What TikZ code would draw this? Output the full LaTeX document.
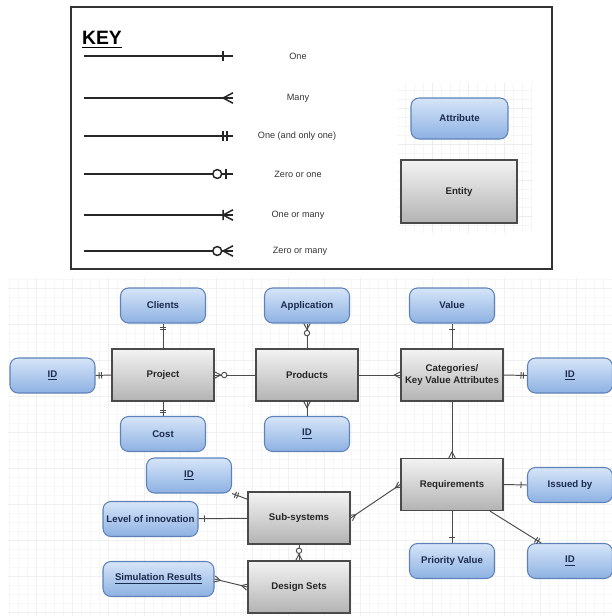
\documentclass[tikz,border=0pt]{standalone}
\usepackage{fontspec}
\setmainfont{Liberation Sans}
\usetikzlibrary{arrows.meta}

\definecolor{attrtop}{HTML}{D6E5F8}
\definecolor{attrbot}{HTML}{8DB1E2}
\definecolor{attrline}{HTML}{5E82B8}
\definecolor{attrtext}{HTML}{1C2B4E}
\definecolor{enttop}{HTML}{F3F3F3}
\definecolor{entbot}{HTML}{B3B3B3}
\definecolor{entline}{HTML}{4A4A4A}

% 線の端の記号(カラスの足記法)
\def\erbar#1{\pgfpathmoveto{\pgfqpoint{#1\pgfarrowlength}{-.5\pgfarrowwidth}}%
  \pgfpathlineto{\pgfqpoint{#1\pgfarrowlength}{.5\pgfarrowwidth}}}
\def\ercrow{\pgfpathmoveto{\pgfqpoint{0pt}{.5\pgfarrowwidth}}%
  \pgfpathlineto{\pgfqpoint{-\pgfarrowlength}{0pt}}%
  \pgfpathlineto{\pgfqpoint{0pt}{-.5\pgfarrowwidth}}}
\def\ercircle{\pgfusepathqstroke\pgfsetfillcolor{white}%
  \pgfpathcircle{\pgfqpoint{-1.6\pgfarrowlength}{0pt}}{.45\pgfarrowlength}%
  \pgfusepathqfillstroke}
\newcommand\declareer[2]{%
  \pgfdeclarearrow{
    name = #1,
    parameters = {\the\pgfarrowlength,\the\pgfarrowwidth},
    setup code = {
      \pgfarrowssettipend{0pt}
      \pgfarrowssetlineend{0pt}
      \pgfarrowssetbackend{-2.1\pgfarrowlength}
      \pgfarrowsupperhullpoint{0pt}{.5\pgfarrowwidth}
      \pgfarrowsupperhullpoint{-2.1\pgfarrowlength}{.5\pgfarrowwidth}
      \pgfarrowssavethe\pgfarrowlength
      \pgfarrowssavethe\pgfarrowwidth
    },
    drawing code = {\pgfsetdash{}{0pt}#2},
    defaults = {length = 3.4pt, width = 3.6pt}
  }}
\declareer{ER one}{\erbar{-1}\pgfusepathqstroke}
\declareer{ER many}{\ercrow\pgfusepathqstroke}
\declareer{ER one only}{\erbar{-1}\erbar{-.6}\pgfusepathqstroke}
\declareer{ER zero one}{\erbar{-.7}\ercircle}
\declareer{ER one many}{\erbar{-1}\ercrow\pgfusepathqstroke}
\declareer{ER zero many}{\ercrow\ercircle}

\tikzset{
  attr/.style={draw=attrline, line width=0.6pt, rounded corners=0.16cm,
    top color=attrtop, bottom color=attrbot, minimum width=1.7cm,
    minimum height=0.7cm, inner sep=0pt, text=attrtext,
    font=\fontsize{5.5}{6.5}\selectfont\bfseries},
  entity/.style={draw=entline, line width=0.8pt, top color=enttop,
    bottom color=entbot, minimum width=2.04cm, minimum height=1.04cm,
    inner sep=0pt, text=black!85, align=center,
    font=\fontsize{5.5}{6.5}\selectfont\bfseries},
  link/.style={draw=black!70, line width=0.55pt},
  keyline/.style={draw=black!85, line width=0.85pt},
  keytext/.style={font=\fontsize{5.2}{6}\selectfont, text=black!80},
  one/.style={-{ER one[#1]}}, one/.default={},
  many/.style={-{ER many[#1]}}, many/.default={},
  oneonly/.style={-{ER one only[#1]}}, oneonly/.default={},
  zeroone/.style={-{ER zero one[#1]}}, zeroone/.default={},
  onemany/.style={-{ER one many[#1]}}, onemany/.default={},
  zeromany/.style={-{ER zero many[#1]}}, zeromany/.default={},
  manymany/.style={{ER many}-{ER many}}
}

\begin{document}
\begin{tikzpicture}[x=0.02cm, y=-0.02cm]
    \useasboundingbox (0,0) rectangle (612,616);

    % 背景の方眼
    \draw[black!3, step=0.18cm] (8,278) grid (612,616);
    \draw[black!6, step=0.72cm] (8,278) grid (612,616);

    % 凡例
    \draw[black!80, line width=1pt] (71,7) rectangle (552,269);
    \node[font=\fontsize{11}{12}\selectfont\bfseries] (keytitle) at (102,40) {\underline{KEY}};

    \coordinate (k1a) at (84,56);  \coordinate (k1b) at (233,56);
    \coordinate (k2a) at (84,98);  \coordinate (k2b) at (233,98);
    \coordinate (k3a) at (84,136); \coordinate (k3b) at (233,136);
    \coordinate (k4a) at (84,174); \coordinate (k4b) at (233,174);
    \coordinate (k5a) at (84,215); \coordinate (k5b) at (233,215);
    \coordinate (k6a) at (84,251); \coordinate (k6b) at (233,251);

    \draw[keyline, one={scale=1.65}] (k1a) -- (k1b);
    \draw[keyline, many={scale=1.65}] (k2a) -- (k2b);
    \draw[keyline, oneonly={scale=1.65}] (k3a) -- (k3b);
    \draw[keyline, zeroone={scale=1.65}] (k4a) -- (k4b);
    \draw[keyline, onemany={scale=1.65}] (k5a) -- (k5b);
    \draw[keyline, zeromany={scale=1.65}] (k6a) -- (k6b);

    \node[keytext] (kone) at (298,56) {One};
    \node[keytext] (kmany) at (298,98) {Many};
    \node[keytext] (koneonly) at (297,136) {One (and only one)};
    \node[keytext] (kzeroone) at (298,174) {Zero or one};
    \node[keytext] (konemany) at (298,215) {One or many};
    \node[keytext] (kzeromany) at (300,251) {Zero or many};

    \draw[black!4, step=0.18cm] (398,83) grid (532,233);
    \draw[black!7, step=0.72cm] (398,83) grid (532,233);
    \node[attr, minimum width=1.94cm, minimum height=0.82cm] (kattr) at (459.5,118.5) {Attribute};
    \node[entity, minimum width=2.32cm, minimum height=1.26cm] (kent) at (459,191.5) {Entity};

    % エンティティ
    \node[entity] (proj) at (163,375) {Project};
    \node[entity] (prod) at (307,375) {Products};
    \node[entity] (cat) at (452,375) {Categories/\\Key Value Attributes};
    \node[entity] (req) at (452,484.5) {Requirements};
    \node[entity] (sub) at (299,518) {Sub-systems};
    \node[entity] (des) at (299,587) {Design Sets};

    % 属性
    \node[attr] (clients) at (163,305.5) {Clients};
    \node[attr] (app) at (307,305.5) {Application};
    \node[attr] (value) at (452,305.5) {Value};
    \node[attr] (idl) at (52.5,375.5) {\underline{ID}};
    \node[attr] (idr) at (570,375.5) {\underline{ID}};
    \node[attr] (cost) at (163,434) {Cost};
    \node[attr] (idp) at (307,434) {\underline{ID}};
    \node[attr] (ids) at (189,475.5) {\underline{ID}};
    \node[attr, minimum width=1.9cm] (level) at (150.5,519) {Level of innovation};
    \node[attr, minimum width=2.22cm] (sim) at (158.5,579) {\underline{Simulation Results}};
    \node[attr] (issued) at (570,485) {Issued by};
    \node[attr] (prio) at (452,561) {Priority Value};
    \node[attr] (idq) at (570,561) {\underline{ID}};

    % 関係
    \draw[link, oneonly] (proj) -- (clients);
    \draw[link, oneonly] (proj) -- (cost);
    \draw[link, oneonly] (proj.west) -- (idl.east);
    \draw[link, zeromany] (prod) -- (proj);
    \draw[link, zeromany] (prod) -- (app);
    \draw[link, many] (idp) -- (prod);
    \draw[link, many] (prod) -- (cat);
    \draw[link, one] (cat) -- (value);
    \draw[link, oneonly] (cat.east) -- (idr.west);
    \draw[link, many] (cat) -- (req);
    \draw[link, one] (req.east) -- (issued.west);
    \draw[link, one] (req) -- (prio);
    \draw[link, oneonly] (req.-35) -- (idq.148);
    \draw[link, manymany] (sub.east) -- (req.west);
    \draw[link, oneonly] (sub.160) -- (ids.south east);
    \draw[link, one] (sub) -- (level);
    \draw[link, zeromany] (sub) -- (des);
    \draw[link, manymany] (des.west) -- (sim.east);
  \end{tikzpicture}
\end{document}
